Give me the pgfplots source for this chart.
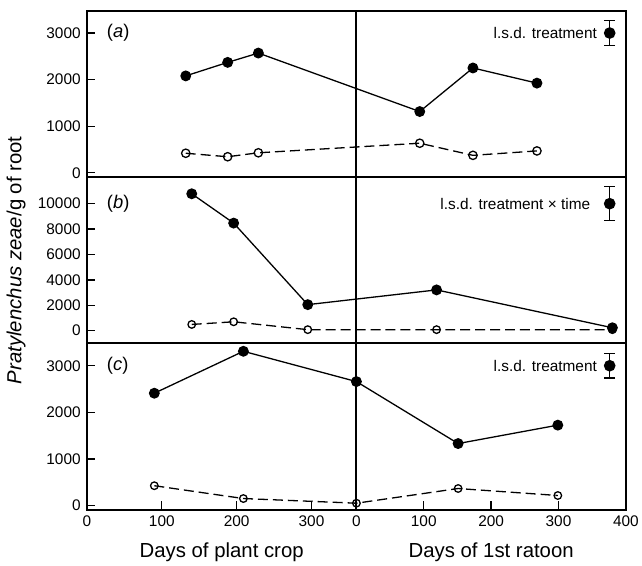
\documentclass[border=0pt]{standalone}
\usepackage{fontspec}
\setmainfont{Liberation Sans}
\usepackage{pgfplots}
\usepackage{pgfplotstable}
\pgfplotsset{compat=1.18}

% r = 0: days of plant crop (0-360), r = 1: days of 1st ratoon (0-400)
\pgfplotstableread{
r d v
0 132 2080
0 188 2370
0 229 2570
1 94 1315
1 173 2250
1 268 1925
}\aFilled
\pgfplotstableread{
r d v
0 132 420
0 188 345
0 229 430
1 94 635
1 173 375
1 268 470
}\aOpen
\pgfplotstableread{
r d v
0 140 10780
0 196 8470
0 295 2050
1 119 3210
1 380 230
}\bFilled
\pgfplotstableread{
r d v
0 140 490
0 196 700
0 295 80
1 119 80
1 380 80
}\bOpen
\pgfplotstableread{
r d v
0 90 2410
0 209 3310
1 0 2660
1 151 1330
1 299 1725
}\cFilled
\pgfplotstableread{
r d v
0 90 425
0 209 150
1 0 50
1 151 365
1 299 215
}\cOpen
\pgfplotstableread{
r d v e
1 376 3000 270
}\aLsd
\pgfplotstableread{
r d v e
1 376 10000 1330
}\bLsd
\pgfplotstableread{
r d v e
1 376 3000 265
}\cLsd

\pgfplotsset{
  panel/.style={
    scale only axis, width=541bp, height=167bp,
    xmin=0, xmax=720,
    line width=2bp,
    axis line style={line width=2bp},
    tick style={black, line width=1.3bp},
    major tick length=8.5bp,
    ytick pos=left, xtick pos=bottom,
    tick label style={font=\fontsize{15.5}{18}\selectfont},
    xticklabel style={yshift=-2bp},
    yticklabel style={xshift=-2bp},
    scaled y ticks=false,
    /pgf/number format/assume math mode=true,
    /pgf/number format/1000 sep={},
    extra x ticks={360}, extra x tick labels={},
    extra x tick style={grid=major, major grid style={black, line width=2bp}, major tick length=0pt},
    clip=false,
  },
  table/tx/.style={x expr=\thisrow{d}*(1-0.1*\thisrow{r})+360*\thisrow{r}, y=v},
  filledser/.style={black, solid, line width=1.3bp, mark=*, mark size=4.8bp, mark options={solid, fill=black}},
  openser/.style={black, dash pattern=on 10bp off 5bp, line width=1.3bp, mark=o, mark size=4.2bp, mark options={solid, fill=white}},
  openserb/.style={black, dash pattern=on 10bp off 5bp, line width=1.3bp, mark=o, mark size=3.8bp, mark options={solid}},
  lsd/.style={black, only marks, mark=*, mark size=4.8bp, error bars/.cd, y dir=both, y explicit, error bar style={line width=1.3bp}, error mark options={rotate=90, mark size=5.5bp, line width=1.3bp}},
}

\begin{document}
\begin{tikzpicture}
\begin{axis}[panel, name=a, ymin=-90, ymax=3480, ytick={0,1000,2000,3000}, xtick=\empty]
  \addplot[openser] table[tx] {\aOpen};
  \addplot[filledser] table[tx] {\aFilled};
  \addplot[lsd] table[tx, y error=e] {\aLsd};
  \node[anchor=west, font=\fontsize{18.5}{22}\selectfont] at (axis cs:21,3000) {(\textit{a})};
  \node[anchor=east, font=\fontsize{15.5}{18}\selectfont] at (axis cs:687,3000) {l.s.d. treatment};
\end{axis}
\begin{axis}[panel, name=b, at={(a.south west)}, anchor=north west, ymin=-1000, ymax=12100, ytick={0,2000,...,10000}, xtick=\empty]
  \addplot[openserb] table[tx] {\bOpen};
  \addplot[filledser] table[tx] {\bFilled};
  \addplot[lsd] table[tx, y error=e] {\bLsd};
  \node[anchor=west, font=\fontsize{18.5}{22}\selectfont] at (axis cs:21,10000) {(\textit{b})};
  \node[anchor=east, font=\fontsize{15.5}{18}\selectfont] at (axis cs:678,10000) {l.s.d. treatment × time};
\end{axis}
\begin{axis}[panel, name=c, at={(b.south west)}, anchor=north west, ymin=-90, ymax=3480, ytick={0,1000,2000,3000},
  xtick={0,100,200,300,360,450,540,630,720}, xticklabels={0,100,200,300,0,100,200,300,400}]
  \addplot[openserb] table[tx] {\cOpen};
  \addplot[filledser] table[tx] {\cFilled};
  \addplot[lsd] table[tx, y error=e] {\cLsd};
  \node[anchor=west, font=\fontsize{18.5}{22}\selectfont] at (axis cs:21,3000) {(\textit{c})};
  \node[anchor=east, font=\fontsize{15.5}{18}\selectfont] at (axis cs:687,3000) {l.s.d. treatment};
  \node[anchor=base, font=\fontsize{20.5}{24}\selectfont] at (axis cs:180,-90) [yshift=-48bp] {Days of plant crop};
  \node[anchor=base, font=\fontsize{20.5}{24}\selectfont] at (axis cs:540,-90) [yshift=-48bp] {Days of 1st ratoon};
\end{axis}
\path (b.west) ++(-71bp,0) node[rotate=90, font=\fontsize{20.5}{24}\selectfont] {\textit{Pratylenchus zeae}/g of root};
\path (a.north west) ++(-87.3bp,10.7bp);
\path (c.south east) ++(13.7bp,-55.3bp);
\end{tikzpicture}
\end{document}
